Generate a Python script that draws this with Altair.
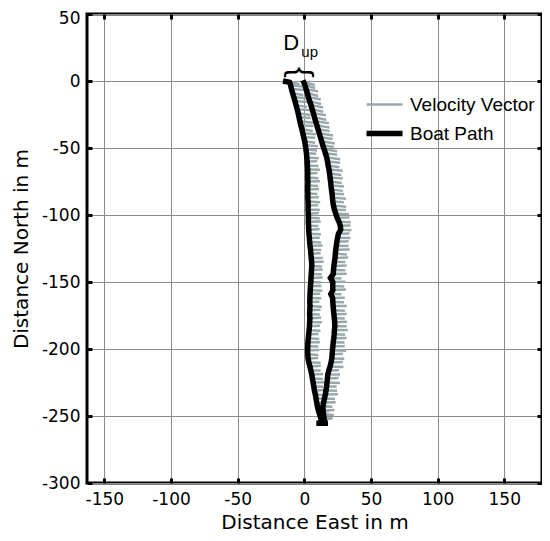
import altair as alt
import pandas as pd

# ---- Boat track, west (outbound) leg, north to south (m) ----
left_north = [0, -1, -3, -6, -9, -12, -15, -18, -21, -24,
              -27, -30, -33, -36, -39, -42, -45, -48, -51, -54,
              -57, -60, -63, -66, -69, -72, -75, -78, -81, -84,
              -87, -90, -93, -96, -99, -102, -105, -108, -111, -114,
              -117, -120, -123, -126, -129, -132, -135, -138, -141, -144,
              -147, -150, -153, -156, -159, -162, -165, -168, -171, -174,
              -177, -180, -183, -186, -189, -192, -195, -198, -201, -204,
              -207, -210, -213, -216, -219, -222, -225, -228, -231, -234,
              -237, -240, -243, -246, -249, -252, -255.5, -255.5, -255.5, -255.5]
left_east = [-16.0, -11.0, -10.3, -9.6, -8.8, -7.9, -7.0, -6.2, -5.4, -4.6,
             -4.0, -3.3, -2.6, -1.8, -1.1, -0.4, 0.3, 0.8, 1.2, 1.6,
             1.9, 2.1, 2.3, 2.5, 2.6, 2.5, 2.7, 2.6, 2.5, 2.7,
             2.6, 2.8, 2.9, 2.8, 3.0, 3.1, 3.0, 3.2, 3.3, 3.5,
             3.8, 4.0, 4.3, 4.7, 4.9, 5.2, 5.5, 5.6, 5.4, 5.2,
             5.0, 4.9, 4.6, 4.5, 4.3, 4.2, 4.1, 4.3, 4.1, 4.0,
             4.2, 4.0, 3.9, 3.6, 3.3, 3.0, 2.7, 2.6, 2.5, 2.6,
             2.8, 3.4, 4.2, 4.9, 5.6, 6.1, 6.6, 7.1, 7.6, 8.3,
             8.8, 9.3, 9.9, 10.6, 11.6, 12.5, 12.8, 9.0, 17.8, 15.2]
left_u = [6.0, 7.5, 8.8, 9.6, 8.1, 10.2, 9.0, 8.4, 10.5, 9.3,
          8.7, 10.1, 9.4, 8.2, 9.9, 8.6, 7.8, 9.5, 8.3, 7.4,
          8.9, 7.6, 8.4, 9.2, 7.3, 8.1, 9.0, 7.7, 8.6, 7.2,
          8.3, 9.1, 7.5, 8.8, 7.9, 8.5, 9.3, 7.4, 8.2, 9.0,
          7.8, 8.6, 9.4, 8.0, 7.3, 8.7, 9.1, 7.6, 8.4, 7.9,
          8.8, 7.5, 8.2, 9.0, 7.7, 8.5, 7.2, 8.9, 8.1, 7.6,
          8.4, 9.2, 7.8, 8.6, 7.4, 8.3, 9.0, 7.9, 8.7, 8.0,
          7.5, 8.8, 8.1, 7.3, 8.6, 7.9, 8.4, 7.1, 8.2, 7.6,
          8.0, 7.4, 8.3, 7.7, 6.9, 7.5, 0.0, 0.0, 0.0, 0.0]
left_v = [0.0, -1.5, -1.2, -0.8, -1.6, -1.0, -0.6, -1.3, -0.9, -1.4,
          -0.7, -1.1, -0.5, -1.3, -0.8, -0.4, -1.0, -0.6, -0.9, -0.3,
          -0.7, 0.2, -0.5, -0.2, 0.3, -0.6, 0.1, -0.4, 0.4, -0.3,
          0.2, -0.5, 0.3, -0.1, 0.5, -0.4, 0.2, -0.2, 0.4, -0.3,
          0.1, -0.5, 0.3, -0.2, 0.4, -0.1, 0.2, -0.4, 0.3, -0.2,
          0.4, -0.3, 0.1, -0.5, 0.2, -0.1, 0.3, -0.4, 0.2, -0.2,
          0.3, -0.1, 0.4, -0.3, 0.2, -0.5, 0.1, -0.2, 0.3, -0.4,
          0.2, -0.3, 0.5, -0.1, 0.3, -0.4, 0.2, -0.2, 0.4, -0.3,
          0.1, -0.2, 0.3, -0.5, 0.2, -0.1, 0.0, 0.0, 0.0, 0.0]

# ---- Boat track, east (return) leg, south to north (m) ----
right_north = [-252, -249, -246, -243, -240, -237, -234, -231, -228, -225,
               -222, -219, -216, -213, -210, -207, -204, -201, -198, -195,
               -192, -189, -186, -183, -180, -177, -174, -171, -168, -165,
               -162, -159, -156, -153, -150, -147, -144, -141, -138, -135,
               -132, -129, -126, -123, -120, -117, -114, -111, -108, -105,
               -102, -99, -96, -93, -90, -87, -84, -81, -78, -75,
               -72, -69, -66, -63, -60, -57, -54, -51, -48, -45,
               -42, -39, -36, -33, -30, -27, -24, -21, -18, -15,
               -12, -9, -6, -3, -1, 0.5]
right_east = [14.8, 14.4, 14.1, 13.9, 14.5, 15.1, 15.8, 16.3, 16.7, 17.0,
              17.3, 17.6, 18.4, 19.3, 20.1, 20.6, 20.9, 21.1, 21.4, 21.7,
              22.1, 22.4, 22.6, 22.9, 22.8, 22.5, 22.2, 21.9, 21.6, 21.4,
              21.3, 19.9, 21.4, 21.3, 21.4, 19.6, 21.7, 21.9, 22.2, 22.6,
              23.0, 23.3, 23.6, 24.0, 24.4, 25.0, 25.6, 27.3, 27.0, 26.0,
              24.6, 23.6, 22.6, 21.9, 21.4, 21.1, 20.8, 20.4, 20.0, 19.7,
              19.3, 19.0, 18.5, 17.9, 17.4, 16.8, 15.9, 14.9, 13.9, 13.0,
              12.1, 11.2, 10.3, 9.4, 8.5, 7.6, 6.8, 5.9, 5.0, 4.0,
              3.0, 2.3, 1.3, 0.4, -0.4, -1.0]
right_u = [6.5, 7.8, 8.6, 7.2, 9.1, 8.0, 9.5, 8.3, 7.6, 9.8,
           8.4, 9.2, 7.7, 10.1, 8.8, 9.4, 8.1, 10.3, 9.0, 8.5,
           9.7, 8.2, 10.0, 8.9, 9.3, 7.9, 9.6, 8.6, 10.2, 8.4,
           9.1, 8.0, 9.8, 8.7, 9.4, 8.3, 10.1, 8.9, 9.5, 8.2,
           9.9, 8.6, 10.4, 9.2, 8.8, 9.6, 8.4, 8.0, 7.6, 8.9,
           9.3, 10.0, 8.7, 9.5, 8.3, 10.2, 9.0, 8.6, 9.8, 8.4,
           9.6, 8.9, 10.3, 8.5, 9.4, 10.1, 8.8, 9.7, 8.2, 9.9,
           9.1, 10.4, 8.7, 9.6, 10.0, 8.9, 9.5, 8.3, 9.2, 8.6,
           9.4, 8.1, 9.0, 7.8, 8.4, 0.0]
right_v = [0.3, -0.2, 0.4, -0.1, 0.2, -0.4, 0.3, -0.2, 0.1, -0.3,
           0.4, -0.1, 0.2, -0.4, 0.3, -0.2, 0.5, -0.3, 0.1, -0.2,
           0.3, -0.4, 0.2, -0.1, 0.4, -0.3, 0.2, -0.5, 0.1, -0.2,
           0.3, -0.1, 0.4, -0.3, 0.2, -0.4, 0.1, -0.2, 0.3, -0.1,
           0.2, -0.4, 0.3, -0.2, 0.5, -0.1, 0.2, -0.3, 0.1, -0.4,
           0.2, -0.5, -0.3, -0.8, -0.4, -0.9, -0.6, -1.0, -0.7, -1.1,
           -0.8, -1.2, -0.9, -1.3, -1.0, -1.4, -1.1, -1.5, -1.2, -1.6,
           -1.3, -1.7, -1.4, -1.8, -1.5, -1.9, -1.6, -2.0, -1.7, -2.1,
           -1.8, -2.2, -1.9, -2.3, -2.0, 0.0]

series_names = ["Velocity Vector", "Boat Path"]
series_colors = ["#98a9ad", "#000000"]
series_widths = [2.5, 5.5]

x_ticks = [-150, -100, -50, 0, 50, 100, 150]
y_ticks = [-300, -250, -200, -150, -100, -50, 0, 50]

# annotation: D_up brace
ann_text = ["D", "up", "{"]
ann_east = [-9.8, 4.0, -2.3]
ann_north = [28.6, 21.3, 6.5]

north = left_north + right_north
east = left_east + right_east
u = left_u + right_u
v = left_v + right_v

track = pd.DataFrame({
    "east": east, "north": north,
    "tip_e": [e + a for e, a in zip(east, u)],
    "tip_n": [n + b for n, b in zip(north, v)],
    "idx": list(range(len(north))),
})

xs = alt.Scale(domain=[-163, 178.3], nice=False, zero=False)
ys = alt.Scale(domain=[-300, 50], nice=False, zero=False)
cscale = alt.Scale(domain=series_names, range=series_colors)
wscale = alt.Scale(domain=series_names, range=series_widths)

legend = alt.Legend(
    title=None, orient="none", legendX=288, legendY=81, padding=0,
    labelFont="Liberation Sans", labelFontSize=19, labelColor="black",
    symbolType="M-3,0H3", symbolSize=144, labelOffset=16, rowPadding=7,
)

LBL = "'' + datum.value"

x_main = alt.Axis(values=x_ticks, title="Distance East in m", grid=True, ticks=False,
                  labelPadding=8, titlePadding=5, labelExpr=LBL)
y_main = alt.Axis(values=y_ticks, title="Distance North in m", grid=True, ticks=False,
                  labelPadding=7, titlePadding=10, labelExpr=LBL,
                  labelOffset={"condition": {"test": "datum.value === 50", "value": 4}, "value": 0})


def tick_axis(values, orient):
    return alt.Axis(values=values, orient=orient, offset=-5, tickSize=5, ticks=True,
                    labels=False, grid=False, domain=False, title=None)


vectors = alt.Chart(track).transform_calculate(series="'Velocity Vector'").mark_rule().encode(
    x=alt.X("east:Q", scale=xs, axis=x_main),
    y=alt.Y("north:Q", scale=ys, axis=y_main),
    x2="tip_e:Q",
    y2="tip_n:Q",
    color=alt.Color("series:N", scale=cscale, legend=legend),
    strokeWidth=alt.StrokeWidth("series:N", scale=wscale, legend=legend),
)

path = alt.Chart(track).transform_calculate(series="'Boat Path'").mark_line(strokeJoin="miter").encode(
    x=alt.X("east:Q", scale=xs, axis=tick_axis(x_ticks, "top")),
    y=alt.Y("north:Q", scale=ys, axis=tick_axis(y_ticks, "right")),
    order="idx:Q",
    color=alt.Color("series:N", scale=cscale, legend=legend),
    strokeWidth=alt.StrokeWidth("series:N", scale=wscale, legend=legend),
)

ann = pd.DataFrame({"t": ann_text, "east": ann_east, "north": ann_north})
d_txt = alt.Chart(ann.iloc[[0]]).mark_text(font="Liberation Sans", fontSize=22, color="black").encode(
    x=alt.X("east:Q", scale=xs, axis=tick_axis(x_ticks, "bottom")),
    y=alt.Y("north:Q", scale=ys, axis=tick_axis(y_ticks, "left")),
    text="t:N")
up_txt = alt.Chart(ann.iloc[[1]]).mark_text(font="Liberation Sans", fontSize=15, color="black").encode(
    x=alt.X("east:Q", scale=xs, axis=None), y=alt.Y("north:Q", scale=ys, axis=None), text="t:N")
brace = alt.Chart(ann.iloc[[2]]).mark_text(font="Liberation Sans", fontSize=32, angle=90,
                                           color="black", baseline="middle").encode(
    x=alt.X("east:Q", scale=xs, axis=None), y=alt.Y("north:Q", scale=ys, axis=None), text="t:N")

chart = alt.layer(vectors, path, d_txt, up_txt, brace).resolve_axis(
    x="independent", y="independent"
).properties(
    width=455, height=469,
    autosize=alt.AutoSizeParams(type="none"),
    padding={"left": 79, "top": 6, "right": 0, "bottom": 50},
).configure_view(
    stroke="black", strokeWidth=3,
).configure_axis(
    domain=False, gridColor="#8c8c8c", gridWidth=1, gridOpacity=1,
    tickColor="black", tickWidth=3,
    labelFont="DejaVu Sans", labelFontSize=17, labelColor="black",
    titleFont="DejaVu Sans", titleFontSize=20, titleFontWeight="normal",
    titleColor="black",
)

chart.save("out.html", embed_options={"renderer": "svg", "actions": False})
